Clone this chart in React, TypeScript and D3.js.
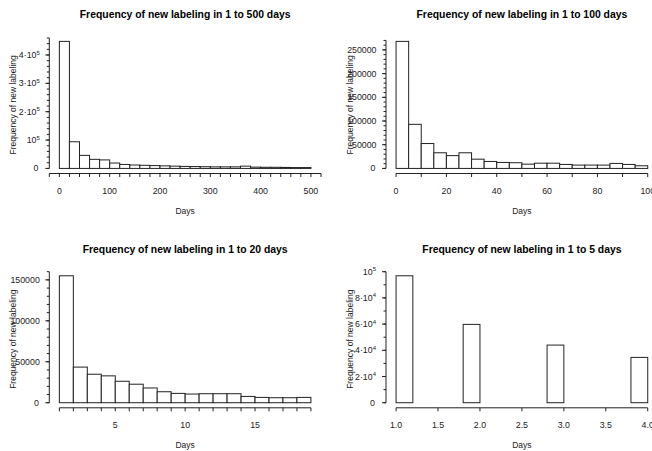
import React from 'react';
import * as d3 from 'd3';

const W = 652;
const H = 451;
const FONT = "'Liberation Sans', Arial, Helvetica, sans-serif";

// ---------- Data ----------
const titles = [
  'Frequency of new labeling in 1 to 500 days',
  'Frequency of new labeling in 1 to 100 days',
  'Frequency of new labeling in 1 to 20 days',
  'Frequency of new labeling in 1 to 5 days',
];

// Panel 1: bins of 20 days from 0 to 500
const p1Edges = [0, 20, 40, 60, 80, 100, 120, 140, 160, 180, 200, 220, 240, 260, 280, 300, 320, 340, 360, 380, 400, 420, 440, 460, 480, 500];
const p1Counts = [448000, 94000, 46000, 32000, 30000, 19000, 14000, 12000, 11000, 10000, 9000, 8000, 7000, 6500, 6000, 5500, 5500, 5500, 8000, 4500, 4000, 4000, 3500, 3000, 3000];

// Panel 2: bins of 5 days from 0 to 100
const p2Edges = [0, 5, 10, 15, 20, 25, 30, 35, 40, 45, 50, 55, 60, 65, 70, 75, 80, 85, 90, 95, 100];
const p2Counts = [268000, 93000, 52500, 33000, 27000, 33000, 19500, 14700, 12600, 12000, 9000, 11000, 11000, 8400, 7000, 7000, 7000, 10500, 8400, 5600];

// Panel 3: bins of 1 day from 1 to 19
const p3Edges = [1, 2, 3, 4, 5, 6, 7, 8, 9, 10, 11, 12, 13, 14, 15, 16, 17, 18, 19];
const p3Counts = [155000, 43500, 34800, 32800, 26200, 22600, 18000, 13400, 11400, 10600, 11000, 11000, 11000, 7700, 6500, 6100, 6100, 6500];

// Panel 4: bins of 0.2 day from 1.0 to 4.0
const p4Edges = [1.0, 1.2, 1.4, 1.6, 1.8, 2.0, 2.2, 2.4, 2.6, 2.8, 3.0, 3.2, 3.4, 3.6, 3.8, 4.0];
const p4Counts = [96900, 0, 0, 0, 59800, 0, 0, 0, 0, 44000, 0, 0, 0, 0, 34600];

// X-axis ticks
const p1XTicks = [-20, 0, 20, 40, 60, 80, 100, 120, 140, 160, 180, 200, 220, 240, 260, 280, 300, 320, 340, 360, 380, 400, 420, 440, 460, 480, 500, 520];
const p1XLabels = [0, 100, 200, 300, 400, 500];
const p2XTicks = [0, 10, 20, 30, 40, 50, 60, 70, 80, 90, 100];
const p2XLabels = [0, 20, 40, 60, 80, 100];
const p3XTicks = [1, 2, 3, 4, 5, 6, 7, 8, 9, 10, 11, 12, 13, 14, 15, 16, 17, 18, 19];
const p3XLabels = [5, 10, 15];
const p4XTicks = [1.0, 1.5, 2.0, 2.5, 3.0, 3.5, 4.0];
const p4XLabels = [1.0, 1.5, 2.0, 2.5, 3.0, 3.5, 4.0];

// Y-axis ticks (major labelled values and labels; minor step and top)
const p1YMajor = [0, 100000, 200000, 300000, 400000];
const p1YLabels = ['0', '10^5', '2·10^5', '3·10^5', '4·10^5'];
const p1YMinorStep = 20000;
const p1YTop = 460000;

const p2YMajor = [0, 50000, 100000, 150000, 200000, 250000];
const p2YLabels = ['0', '50000', '100000', '150000', '200000', '250000'];
const p2YMinorStep = 10000;
const p2YTop = 270000;

const p3YMajor = [0, 50000, 100000, 150000];
const p3YLabels = ['0', '50000', '100000', '150000'];
const p3YMinorStep = 10000;
const p3YTop = 160000;

const p4YMajor = [0, 20000, 40000, 60000, 80000, 100000];
const p4YLabels = ['0', '2·10^4', '4·10^4', '6·10^4', '8·10^4', '10^5'];
const p4YMinorStep = 10000;
const p4YTop = 100000;

// ---------- Layout ----------
const rows = [
  { top: 36.3, bottom: 173.5 },
  { top: 270.7, bottom: 407.8 },
];
const cols = [
  { left: 49.3, right: 321 },
  { left: 386, right: 657.8 },
];

type PanelProps = {
  title: string;
  edges: number[];
  counts: number[];
  xTicks: number[];
  xLabels: number[];
  xFmt: (v: number) => string;
  yMajor: number[];
  yLabels: string[];
  yMinorStep: number;
  yTop: number;
  left: number;
  right: number;
  top: number;
  bottom: number;
  labelGap: number;
  zeroGap: number;
};

const LINE = '#222';
const TXT = '#222';

function TickLabel({ x, y, label }: { x: number; y: number; label: string }) {
  const parts = label.split('^');
  return (
    <text x={x} y={y} dy="0.35em" textAnchor="end" fontSize={8.8} fill={TXT} fontFamily={FONT}>
      {parts[0]}
      {parts.length > 1 && (
        <tspan dy={-3.5} fontSize={6}>
          {parts[1]}
        </tspan>
      )}
    </text>
  );
}

function Panel(p: PanelProps) {
  const xMin = p.edges[0];
  const xMax = p.edges[p.edges.length - 1];
  const xPad = (xMax - xMin) * 0.04;
  const x = d3.scaleLinear().domain([xMin - xPad, xMax + xPad]).range([p.left, p.right]);
  const yMaxData = d3.max(p.counts) as number;
  const y = d3.scaleLinear().domain([-0.04 * yMaxData, 1.04 * yMaxData]).range([p.bottom, p.top]);
  const minorTicks = d3.range(0, p.yTop + 1, p.yMinorStep);
  const cx = (p.left + p.right) / 2;
  const cy = (p.top + p.bottom) / 2;
  const xAxisY = p.bottom;
  const xt0 = p.xTicks[0];
  const xt1 = p.xTicks[p.xTicks.length - 1];

  return (
    <g>
      <text x={cx} y={p.top - 18} textAnchor="middle" fontSize={10.4} fontWeight="bold" fill="#000" fontFamily={FONT}>
        {p.title}
      </text>
      {/* bars */}
      {p.counts.map((c, i) => (
        <rect
          key={i}
          x={x(p.edges[i])}
          y={y(c)}
          width={x(p.edges[i + 1]) - x(p.edges[i])}
          height={y(0) - y(c)}
          fill="#fff"
          stroke={LINE}
          strokeWidth={1}
        />
      ))}
      {/* x axis */}
      <line x1={x(xt0)} x2={x(xt1)} y1={xAxisY} y2={xAxisY} stroke={LINE} strokeWidth={1} />
      {p.xTicks.map((t, i) => (
        <line key={i} x1={x(t)} x2={x(t)} y1={xAxisY} y2={xAxisY + 3.5} stroke={LINE} strokeWidth={1} />
      ))}
      {p.xLabels.map((t, i) => (
        <text key={i} x={x(t)} y={xAxisY + 20} textAnchor="middle" fontSize={8.8} fill={TXT} fontFamily={FONT}>
          {p.xFmt(t)}
        </text>
      ))}
      <text x={cx} y={xAxisY + 40} textAnchor="middle" fontSize={8.5} fill={TXT} fontFamily={FONT}>
        Days
      </text>
      {/* y axis */}
      <line x1={p.left} x2={p.left} y1={y(0)} y2={y(p.yTop)} stroke={LINE} strokeWidth={1} />
      {minorTicks.map((t, i) => (
        <line key={i} x1={p.left - 2.5} x2={p.left} y1={y(t)} y2={y(t)} stroke={LINE} strokeWidth={1} />
      ))}
      {p.yMajor.map((t, i) => (
        <line key={i} x1={p.left - 4} x2={p.left} y1={y(t)} y2={y(t)} stroke={LINE} strokeWidth={1} />
      ))}
      {p.yMajor.map((t, i) => (
        <TickLabel key={i} x={p.left - (t === 0 ? p.zeroGap : p.labelGap)} y={y(t)} label={p.yLabels[i]} />
      ))}
      <text
        transform={`translate(${p.left - 33.5},${cy}) rotate(-90)`}
        textAnchor="middle"
        fontSize={8.5}
        fill={TXT}
        fontFamily={FONT}
      >
        Frequency of new labeling
      </text>
    </g>
  );
}

const intFmt = (v: number) => String(v);
const decFmt = (v: number) => v.toFixed(1);

export default function App() {
  return (
    <svg
      width={W}
      height={H}
      viewBox={`0 0 ${W} ${H}`}
      style={{ position: 'absolute', left: 0, top: 0, background: '#fff' }}
    >
      <rect x={0} y={0} width={W} height={H} fill="#fff" />
      <Panel
        title={titles[0]}
        edges={p1Edges}
        counts={p1Counts}
        xTicks={p1XTicks}
        xLabels={p1XLabels}
        xFmt={intFmt}
        yMajor={p1YMajor}
        yLabels={p1YLabels}
        yMinorStep={p1YMinorStep}
        yTop={p1YTop}
        {...cols[0]}
        {...rows[0]}
        labelGap={9.5}
        zeroGap={11}
      />
      <Panel
        title={titles[1]}
        edges={p2Edges}
        counts={p2Counts}
        xTicks={p2XTicks}
        xLabels={p2XLabels}
        xFmt={intFmt}
        yMajor={p2YMajor}
        yLabels={p2YLabels}
        yMinorStep={p2YMinorStep}
        yTop={p2YTop}
        {...cols[1]}
        {...rows[0]}
        labelGap={9.5}
        zeroGap={10.5}
      />
      <Panel
        title={titles[2]}
        edges={p3Edges}
        counts={p3Counts}
        xTicks={p3XTicks}
        xLabels={p3XLabels}
        xFmt={intFmt}
        yMajor={p3YMajor}
        yLabels={p3YLabels}
        yMinorStep={p3YMinorStep}
        yTop={p3YTop}
        {...cols[0]}
        {...rows[1]}
        labelGap={9.5}
        zeroGap={10.5}
      />
      <Panel
        title={titles[3]}
        edges={p4Edges}
        counts={p4Counts}
        xTicks={p4XTicks}
        xLabels={p4XLabels}
        xFmt={decFmt}
        yMajor={p4YMajor}
        yLabels={p4YLabels}
        yMinorStep={p4YMinorStep}
        yTop={p4YTop}
        {...cols[1]}
        {...rows[1]}
        labelGap={10}
        zeroGap={11}
      />
    </svg>
  );
}
